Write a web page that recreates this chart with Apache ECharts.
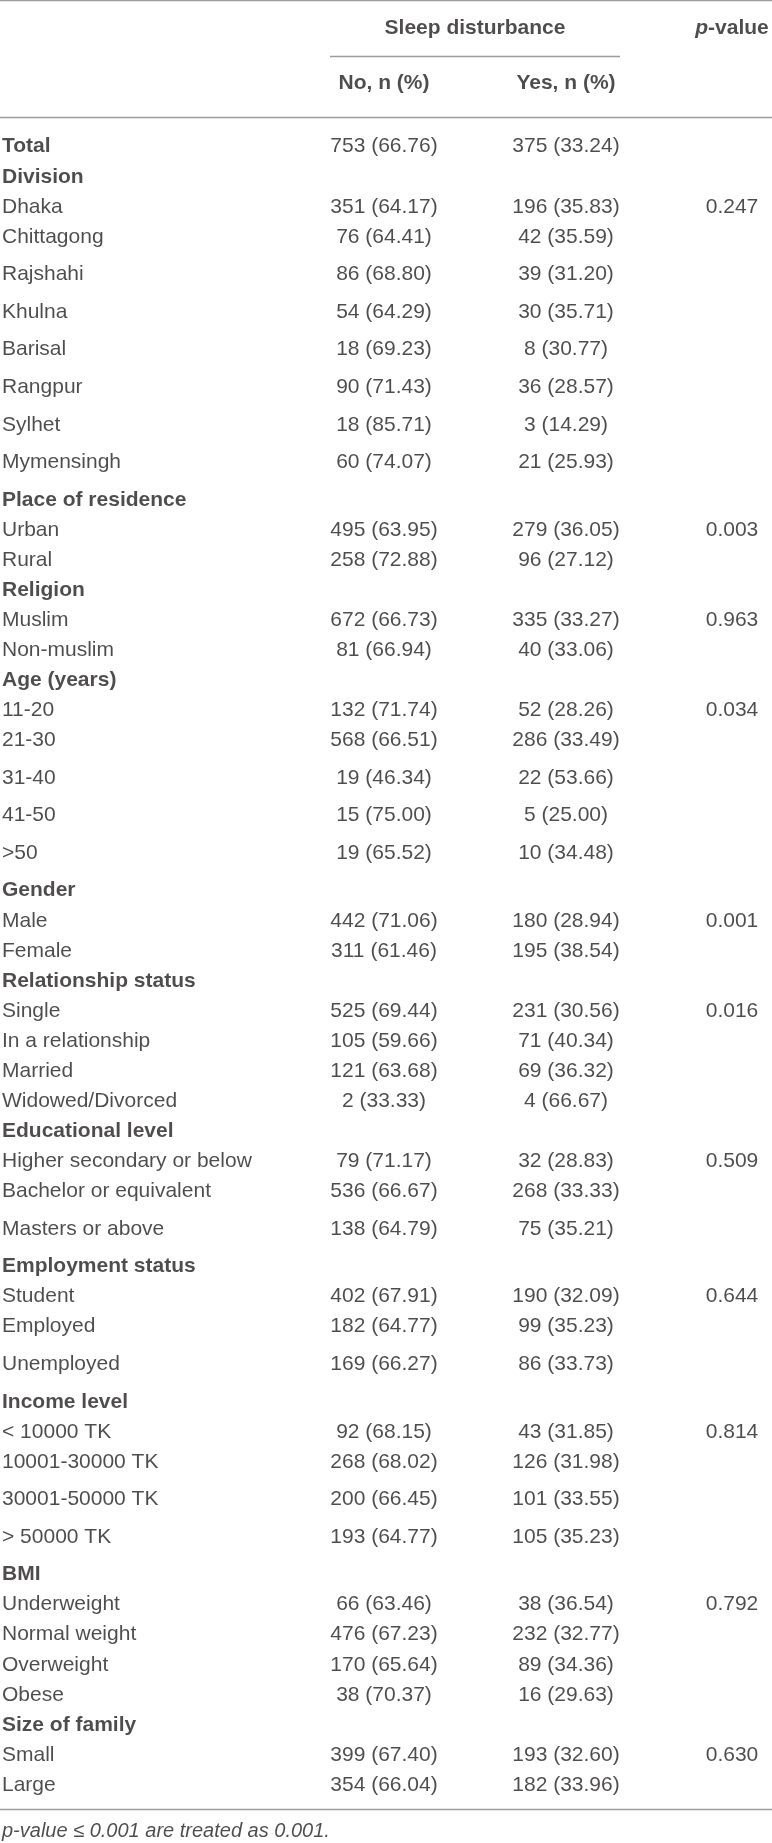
<!DOCTYPE html>
<html>
<head>
<meta charset="utf-8">
<script src="https://cdn.jsdelivr.net/npm/echarts@6/dist/echarts.min.js"></script>
<style>
  html, body { margin: 0; padding: 0; background: #fff; }
  #main { width: 772px; height: 1843px; }
</style>
</head>
<body>
<div id="main"></div>
<script>
// table data
var rowLabels = ['Total', 'Division', 'Dhaka', 'Chittagong', 'Rajshahi', 'Khulna', 'Barisal', 'Rangpur', 'Sylhet', 'Mymensingh',
    'Place of residence', 'Urban', 'Rural', 'Religion', 'Muslim', 'Non-muslim',
    'Age (years)', '11-20', '21-30', '31-40', '41-50', '>50', 'Gender', 'Male', 'Female',
    'Relationship status', 'Single', 'In a relationship', 'Married', 'Widowed/Divorced',
    'Educational level', 'Higher secondary or below', 'Bachelor or equivalent', 'Masters or above',
    'Employment status', 'Student', 'Employed', 'Unemployed',
    'Income level', '< 10000 TK', '10001-30000 TK', '30001-50000 TK', '> 50000 TK',
    'BMI', 'Underweight', 'Normal weight', 'Overweight', 'Obese', 'Size of family', 'Small', 'Large'];
var noN = [753, null, 351, 76, 86, 54, 18, 90, 18, 60, null, 495, 258, null, 672, 81,
    null, 132, 568, 19, 15, 19, null, 442, 311, null, 525, 105, 121, 2, null, 79, 536, 138,
    null, 402, 182, 169, null, 92, 268, 200, 193, null, 66, 476, 170, 38, null, 399, 354];
var noPct = [66.76, null, 64.17, 64.41, 68.80, 64.29, 69.23, 71.43, 85.71, 74.07, null, 63.95, 72.88, null, 66.73, 66.94,
    null, 71.74, 66.51, 46.34, 75.00, 65.52, null, 71.06, 61.46, null, 69.44, 59.66, 63.68, 33.33, null, 71.17, 66.67, 64.79,
    null, 67.91, 64.77, 66.27, null, 68.15, 68.02, 66.45, 64.77, null, 63.46, 67.23, 65.64, 70.37, null, 67.40, 66.04];
var yesN = [375, null, 196, 42, 39, 30, 8, 36, 3, 21, null, 279, 96, null, 335, 40,
    null, 52, 286, 22, 5, 10, null, 180, 195, null, 231, 71, 69, 4, null, 32, 268, 75,
    null, 190, 99, 86, null, 43, 126, 101, 105, null, 38, 232, 89, 16, null, 193, 182];
var yesPct = [33.24, null, 35.83, 35.59, 31.20, 35.71, 30.77, 28.57, 14.29, 25.93, null, 36.05, 27.12, null, 33.27, 33.06,
    null, 28.26, 33.49, 53.66, 25.00, 34.48, null, 28.94, 38.54, null, 30.56, 40.34, 36.32, 66.67, null, 28.83, 33.33, 35.21,
    null, 32.09, 35.23, 33.73, null, 31.85, 31.98, 33.55, 35.23, null, 36.54, 32.77, 34.36, 29.63, null, 32.60, 33.96];
var pRows = ['Dhaka', 'Urban', 'Muslim', '11-20', 'Male', 'Single', 'Higher secondary or below', 'Student', '< 10000 TK', 'Underweight', 'Small'];
var pValues = [0.247, 0.003, 0.963, 0.034, 0.001, 0.016, 0.509, 0.644, 0.814, 0.792, 0.630];

// layout: rows that sit after a taller gap
var tallBefore = ['Rajshahi', 'Khulna', 'Barisal', 'Rangpur', 'Sylhet', 'Mymensingh', 'Place of residence',
    '31-40', '41-50', '>50', 'Gender', 'Masters or above', 'Employment status', 'Unemployed', 'Income level',
    '30001-50000 TK', '> 50000 TK', 'BMI'];
var colX = { label: 2, no: 384, yes: 566, p: 732, group: 475, lineL: 330, lineR: 620, right: 772 };

var ink = '#231f20';
var fontFamily = '"Liberation Sans", Arial, Helvetica, sans-serif';
var fs = 21;

var rowY = [];
var y = 3.93;
rowLabels.forEach(function (l, i) {
    if (i > 0) y += tallBefore.indexOf(l) >= 0 ? 1.25 : 1;
    rowY.push(y);
});
var footY = y + 1.56;
var yMin = -0.95, yMax = footY + 0.37;

function cell(n, pct) {
    return n == null ? '' : n + ' (' + pct.toFixed(2) + ')';
}

var labelData = [], noData = [], yesData = [], pData = [];
rowLabels.forEach(function (l, i) {
    var bold = noN[i] == null || l === 'Total';
    labelData.push({ name: l, value: [colX.label, rowY[i]], label: { fontWeight: bold ? 'bold' : 'normal' } });
    if (noN[i] != null) {
        noData.push({ name: cell(noN[i], noPct[i]), value: [colX.no, rowY[i]] });
        yesData.push({ name: cell(yesN[i], yesPct[i]), value: [colX.yes, rowY[i]] });
    }
    var k = pRows.indexOf(l);
    if (k >= 0) pData.push({ name: pValues[k].toFixed(3), value: [colX.p, rowY[i]] });
});

function hline(x1, x2, yy) {
    return [{ coord: [x1, yy] }, { coord: [x2, yy] }];
}

var baseLabel = { show: true, color: ink, fontFamily: fontFamily, fontSize: fs };

var myChart = echarts.init(document.getElementById('main'), null, { renderer: 'canvas' });
var option = {
    animation: false,
    grid: { left: 0, right: 0, top: 0, bottom: 0 },
    xAxis: { type: 'value', min: 0, max: colX.right, show: false },
    yAxis: { type: 'value', min: yMin, max: yMax, inverse: true, show: false },
    series: [{
        type: 'scatter', silent: true, symbolSize: 0,
        label: Object.assign({}, baseLabel, { position: 'right', distance: 0, formatter: '{b}' }),
        data: labelData
    }, {
        type: 'scatter', silent: true, symbolSize: 0,
        label: Object.assign({}, baseLabel, { position: 'inside', formatter: '{b}' }),
        data: noData
    }, {
        type: 'scatter', silent: true, symbolSize: 0,
        label: Object.assign({}, baseLabel, { position: 'inside', formatter: '{b}' }),
        data: yesData
    }, {
        type: 'scatter', silent: true, symbolSize: 0,
        label: Object.assign({}, baseLabel, { position: 'inside', formatter: '{b}' }),
        data: pData
    }, {
        // headers and footnote
        type: 'scatter', silent: true, symbolSize: 0,
        label: Object.assign({}, baseLabel, {
            position: 'inside', fontWeight: 'bold', formatter: '{b}',
            rich: {
                i: { fontFamily: fontFamily, fontSize: fs, color: ink, fontStyle: 'italic', fontWeight: 'bold' },
                b: { fontFamily: fontFamily, fontSize: fs, color: ink, fontWeight: 'bold' }
            }
        }),
        data: [
            { name: 'Sleep disturbance', value: [colX.group, 0] },
            { name: '', value: [colX.p, 0], label: { formatter: '{i|p}{b|-value}' } },
            { name: 'No, n (%)', value: [colX.no, 1.83] },
            { name: 'Yes, n (%)', value: [colX.yes, 1.83] },
            { name: 'p-value \u2264 0.001 are treated as 0.001.', value: [colX.label, footY],
              label: { position: 'right', distance: 0, fontWeight: 'normal', fontStyle: 'italic', fontSize: 20 } }
        ],
        markLine: {
            silent: true, symbol: 'none', animation: false,
            label: { show: false },
            lineStyle: { color: '#9d9d9d', width: 1.3, type: 'solid' },
            data: [
                hline(0, colX.right, -0.93),
                hline(colX.lineL, colX.lineR, 0.915),
                hline(0, colX.right, 2.96),
                hline(0, colX.right, rowY[rowY.length - 1] + 0.8)
            ]
        }
    }]
};
myChart.setOption(option);
</script>
</body>
</html>
